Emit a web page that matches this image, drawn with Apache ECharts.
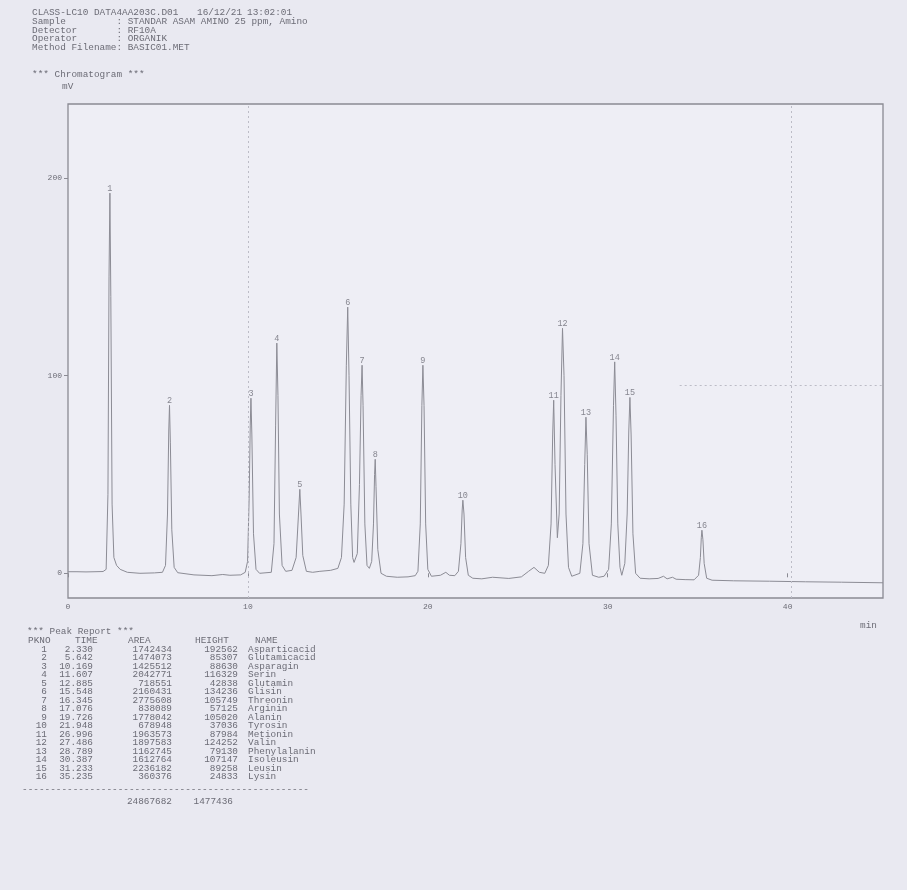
<!DOCTYPE html>
<html>
<head>
<meta charset="utf-8">
<script src="https://cdn.jsdelivr.net/npm/echarts@6/dist/echarts.min.js"></script>
<style>
  html, body { margin: 0; padding: 0; background: #e9e9f1; }
  #chart { width: 907px; height: 890px; }
</style>
</head>
<body>
<div id="chart"></div>
<script>
// ---- Run header ----
const headerLines = [
  'CLASS-LC10 DATA4AA203C.D01',
  'Sample         : STANDAR ASAM AMINO 25 ppm, Amino',
  'Detector       : RF10A',
  'Operator       : ORGANIK',
  'Method Filename: BASIC01.MET'
];
const headerDate = '16/12/21';
const headerTime = '13:02:01';

// ---- Axis ticks ----
const timeTicks = [0, 10, 20, 30, 40];
const mvTicks = [0, 100, 200];

// ---- Peak report ----
const peakNo = [1, 2, 3, 4, 5, 6, 7, 8, 9, 10, 11, 12, 13, 14, 15, 16];
const peakTime = [2.330, 5.642, 10.169, 11.607, 12.885, 15.548, 16.345, 17.076,
                  19.726, 21.948, 26.996, 27.486, 28.789, 30.387, 31.233, 35.235];
const peakArea = [1742434, 1474073, 1425512, 2042771, 718551, 2160431, 2775608, 838089,
                  1778042, 678948, 1963573, 1897583, 1162745, 1612764, 2236182, 360376];
const peakHeight = [192562, 85307, 88630, 116329, 42838, 134236, 105749, 57125,
                    105020, 37036, 87984, 124252, 79130, 107147, 89258, 24833];
const peakName = ['Asparticacid', 'Glutamicacid', 'Asparagin', 'Serin', 'Glutamin',
                  'Glisin', 'Threonin', 'Arginin', 'Alanin', 'Tyrosin', 'Metionin',
                  'Valin', 'Phenylalanin', 'Isoleusin', 'Leusin', 'Lysin'];
// signal at each apex (mV)
const peakApex = [192.4, 85.0, 88.6, 116.5, 42.5, 134.7, 105.3, 57.7,
                  105.3, 37.0, 87.6, 124.0, 79.0, 107.0, 89.0, 21.8];

// ---- Detector trace between apexes: [min, mV] ----
const traceFlanks = [
  [0, 0.8], [0.5, 0.8], [1.0, 0.7], [1.5, 0.8], [1.95, 0.9],
  [2.12, 2], [2.22, 40], [2.28, 150], [2.38, 140], [2.45, 35], [2.55, 8], [2.7, 4], [2.9, 2], [3.3, 0.5],
  [4.0, 0], [4.8, 0.2], [5.25, 0.5],
  [5.42, 4], [5.53, 30], [5.6, 72], [5.69, 66], [5.77, 22], [5.9, 3], [6.1, 0.3],
  [7.0, -0.8], [8.0, -1.2], [8.6, -0.6], [9.0, -1], [9.6, -0.8],
  [9.85, 0.5], [9.98, 6], [10.07, 38], [10.13, 75], [10.22, 70], [10.31, 20], [10.45, 2], [10.65, 0],
  [11.3, 0.5], [11.45, 15], [11.54, 75], [11.67, 90], [11.75, 30], [11.9, 4], [12.1, 1],
  [12.45, 1.5], [12.68, 8], [12.8, 28], [12.95, 30], [13.05, 9], [13.25, 1], [13.6, 0.5],
  [14.0, 1], [14.6, 1.5], [15.0, 2.5],
  [15.2, 8], [15.35, 35], [15.47, 105], [15.62, 100], [15.72, 35], [15.82, 8], [15.9, 5.5],
  [16.08, 10], [16.2, 45], [16.29, 90], [16.4, 85], [16.5, 25], [16.62, 4], [16.75, 2.5],
  [16.88, 6], [16.98, 25], [17.04, 50], [17.12, 44], [17.22, 12], [17.4, 0], [17.7, -1.5],
  [18.3, -2], [18.9, -1.8], [19.3, -1.2],
  [19.45, 1], [19.58, 25], [19.67, 85], [19.79, 85], [19.88, 25], [20.0, 2], [20.2, -1.5],
  [20.7, -1], [21.0, 0.5], [21.2, -1], [21.5, -1.2],
  [21.7, 1], [21.84, 15], [21.91, 32], [22.01, 30], [22.1, 8], [22.25, -1], [22.5, -2.5],
  [23.0, -2.8], [23.6, -2], [23.9, -2.2], [24.5, -2.6], [25.2, -1.8], [25.6, 1], [25.9, 3], [26.2, 0.5], [26.5, 0],
  [26.7, 4], [26.85, 25], [26.94, 70], [27.07, 55], [27.2, 18],
  [27.3, 30], [27.4, 90], [27.57, 100], [27.68, 30], [27.82, 3], [28.0, -1.5],
  [28.45, 0], [28.62, 15], [28.72, 55], [28.86, 60], [28.96, 15], [29.15, -1], [29.5, -2],
  [29.8, -1.5],
  [30.05, 2], [30.2, 25], [30.32, 85], [30.46, 80], [30.56, 25], [30.68, 3], [30.78, -1],
  [30.95, 5], [31.08, 30], [31.17, 72], [31.3, 70], [31.4, 20], [31.55, 0], [31.8, -2.5],
  [32.3, -2.8], [32.8, -2.6], [33.1, -1.5], [33.3, -2.8], [33.6, -2], [33.8, -3], [34.3, -3.2], [34.8, -3.3],
  [35.05, -1], [35.15, 8], [35.2, 18], [35.29, 17], [35.36, 5], [35.5, -2.5], [35.8, -3.5],
  [37, -3.8], [39, -4], [41, -4.3], [43, -4.5], [45.3, -4.8]
];

// Full trace: flanks plus apex points, in time order
const apexPoints = peakTime.map((t, i) => [t, peakApex[i]]);
const trace = traceFlanks.concat(apexPoints).sort((a, b) => a[0] - b[0]);

const ink = '#6c6c76';
const mono = '"Liberation Mono", "DejaVu Sans Mono", monospace';

// ---- Text blocks drawn as graphic elements ----
const graphics = [];
function txt(x, y, s, align, size) {
  graphics.push({
    type: 'text', x: x, y: y,
    style: { text: s, fill: ink, font: (size || 9.4) + 'px ' + mono,
             textAlign: align || 'left', textVerticalAlign: 'middle' }
  });
}
const headerY = [13, 22, 30.5, 39, 47.5];
headerLines.forEach((s, i) => txt(32, headerY[i], s));
txt(197, headerY[0], headerDate);
txt(247, headerY[0], headerTime);
txt(32, 75, '*** Chromatogram ***');
txt(62, 87, 'mV');
txt(860, 626, 'min');

txt(27, 632, '*** Peak Report ***');
const rowY0 = 641, rowStep = 8.5;
txt(28, rowY0, 'PKNO');
txt(75, rowY0, 'TIME');
txt(128, rowY0, 'AREA');
txt(195, rowY0, 'HEIGHT');
txt(255, rowY0, 'NAME');
peakNo.forEach((n, i) => {
  const y = rowY0 + rowStep * (i + 1);
  txt(47, y, String(n), 'right');
  txt(93, y, peakTime[i].toFixed(3), 'right');
  txt(172, y, String(peakArea[i]), 'right');
  txt(238, y, String(peakHeight[i]), 'right');
  txt(248, y, peakName[i]);
});
const lastY = rowY0 + rowStep * peakNo.length;
txt(22, lastY + 13, '---------------------------------------------------');
const totalArea = peakArea.reduce((a, b) => a + b, 0);
const totalHeight = peakHeight.reduce((a, b) => a + b, 0);
txt(172, lastY + 25, String(totalArea), 'right');
txt(233, lastY + 25, String(totalHeight), 'right');

const chart = echarts.init(document.getElementById('chart'), null, { renderer: 'canvas' });
chart.setOption({
  backgroundColor: '#e9e9f1',
  animation: false,
  grid: {
    left: 68, right: 24, top: 104, bottom: 292,
    show: true, backgroundColor: '#eeeef5', borderColor: '#8a8a93', borderWidth: 1.3
  },
  xAxis: {
    type: 'value', min: 0, max: 45.3,
    axisLine: { show: false },
    splitLine: { show: false },
    axisTick: { show: true, customValues: timeTicks, length: 4, lineStyle: { color: '#8a8a93' } },
    axisLabel: { customValues: timeTicks, color: ink, fontSize: 8, fontFamily: mono, margin: 5 }
  },
  yAxis: {
    type: 'value', min: -12.5, max: 237.5,
    axisLine: { show: false },
    splitLine: { show: false },
    axisTick: { show: true, customValues: mvTicks, length: 4, lineStyle: { color: '#8a8a93' } },
    axisLabel: { customValues: mvTicks, color: ink, fontSize: 8, fontFamily: mono, margin: 6 }
  },
  series: [
    {
      type: 'line', data: trace, showSymbol: false, smooth: false,
      lineStyle: { color: '#8c8c95', width: 1 },
      markLine: {
        silent: true, symbol: 'none', label: { show: false },
        lineStyle: { color: '#bcbcc6', type: [2, 3], width: 1 },
        data: [
          { xAxis: 10 },
          { xAxis: 40.2 },
          [{ coord: [34, 95] }, { coord: [45.3, 95] }]
        ]
      }
    },
    {
      type: 'scatter', symbolSize: 0,
      data: apexPoints.map((p, i) => ({ value: p, name: String(peakNo[i]) })),
      label: {
        show: true, position: 'top', distance: 0,
        formatter: p => p.name, color: ink, fontSize: 8.5, fontFamily: mono
      }
    }
  ],
  graphic: graphics
});
</script>
</body>
</html>
